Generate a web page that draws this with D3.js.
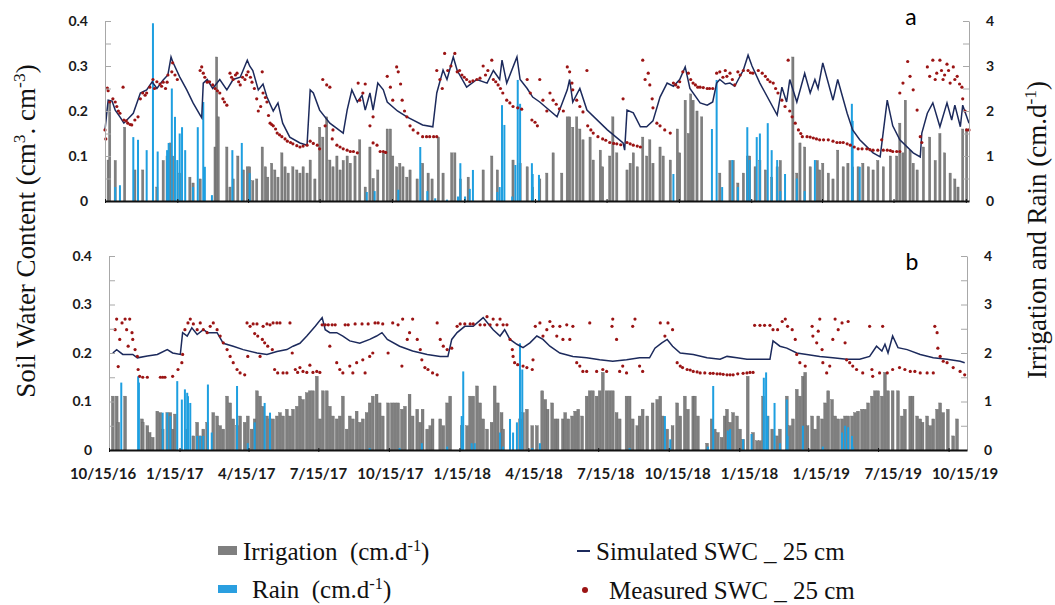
<!DOCTYPE html>
<html>
<head>
<meta charset="utf-8">
<script src="https://d3js.org/d3.v7.min.js"></script>
<style>
  body { margin: 0; background: #fff; }
  .tick text { font-family: Lato, "Open Sans", sans-serif; font-weight: bold; font-size: 14px; fill: #1a1a1a; }
  .serif { font-family: "Liberation Serif", "DejaVu Serif", serif; fill: #111; white-space: pre; }
</style>
</head>
<body>
<div id="my_dataviz"></div>
<script>
// days counted from 15 Oct 2016
// panel a
const simA = [[0,.158],[4,.224],[9,.222],[13,.202],[19,.187],[24,.173],[36,.195],[45,.24],[53,.247],[60,.265],[66,.25],[74,.269],[80,.28],[84,.32],[86,.31],[95,.276],[104,.247],[112,.218],[121,.191],[123,.185],[125,.262],[130,.27],[137,.25],[146,.27],[155,.247],[163,.27],[172,.275],[181,.313],[184,.30],[188,.29],[195,.247],[201,.26],[206,.231],[214,.20],[220,.218],[226,.173],[235,.142],[248,.129],[257,.124],[261,.247],[265,.24],[273,.202],[286,.173],[303,.151],[308,.202],[314,.247],[321,.22],[327,.235],[331,.202],[337,.24],[341,.202],[347,.262],[354,.247],[359,.22],[372,.2],[384,.187],[404,.169],[417,.165],[422,.24],[430,.291],[435,.27],[443,.32],[448,.29],[460,.253],[473,.27],[486,.262],[494,.29],[502,.27],[505,.313],[511,.262],[524,.32],[528,.27],[537,.25],[544,.231],[553,.22],[575,.187],[588,.247],[591,.27],[595,.22],[604,.25],[613,.202],[639,.158],[659,.129],[661,.113],[664,.202],[672,.196],[681,.165],[689,.165],[697,.178],[706,.231],[715,.262],[723,.255],[731,.27],[738,.298],[744,.25],[757,.218],[766,.213],[773,.22],[778,.262],[782,.27],[789,.26],[795,.262],[801,.255],[812,.291],[818,.324],[823,.30],[833,.262],[855,.191],[861,.253],[867,.22],[871,.27],[880,.22],[890,.284],[897,.24],[903,.27],[907,.25],[913,.307],[926,.224],[932,.27],[944,.195],[951,.158],[960,.136],[977,.107],[986,.098],[995,.224],[1002,.167],[1011,.136],[1028,.107],[1037,.098],[1039,.151],[1046,.195],[1053,.218],[1062,.165],[1071,.218],[1077,.18],[1081,.213],[1088,.165],[1091,.213],[1099,.173]];

const measA = [[0,.158],[1,.138],[3,.251],[4,.245],[6,.22],[10,.227],[13,.22],[15,.21],[17,.2],[19,.195],[23,.253],[24,.18],[27,.178],[29,.173],[32,.17],[34,.169],[38,.18],[42,.187],[45,.227],[48,.24],[51,.235],[53,.24],[57,.253],[61,.27],[63,.25],[66,.265],[70,.26],[72,.255],[74,.264],[77,.25],[79,.264],[80,.28],[85,.287],[86,.307],[89,.28],[92,.27],
[121,.29],[123,.298],[125,.284],[127,.275],[130,.264],[133,.265],[137,.258],[140,.25],[143,.245],[146,.24],[150,.227],[152,.22],[155,.213],[159,.284],[161,.275],[163,.27],[166,.28],[168,.284],[170,.265],[172,.258],[175,.275],[178,.27],[180,.28],[182,.287],[185,.275],[187,.264],[190,.25],[193,.227],[195,.2],[198,.21],[200,.287],[201,.24],[204,.23],[206,.22],[208,.19],[210,.173],[212,.17],[214,.167],[217,.16],[219,.151],[222,.147],[225,.143],[229,.138],[232,.133],[236,.13],[239,.127],[244,.123],[248,.12],[252,.122],[257,.124],[261,.133],[265,.128],[270,.124],[273,.116],[277,.27],[280,.167],[282,.258],[286,.253],[289,.138],[290,.158],[295,.124],[299,.12],[303,.116],[308,.113],[312,.11],[316,.11],[321,.107],[322,.262],[324,.224],[328,.24],[331,.26],[337,.167],[341,.187],[341,.129],[346,.124],[350,.11],[354,.11],[357,.108],[359,.277],[363,.253],[366,.224],[371,.298],[373,.287],[376,.26],[378,.224],[381,.2],[384,.187],[388,.167],[392,.158],[398,.151],[404,.143],[409,.143],[413,.143],[418,.143],[422,.143],[422,.29],[426,.27],[429,.25],[432,.328],[436,.29],[440,.3],[445,.328],[448,.287],[451,.29],[454,.28],[457,.275],[460,.27],[464,.265],[468,.267],[473,.27],[477,.273],[481,.3],[484,.28],[487,.29],[492,.313],[494,.27],[497,.265],[500,.258],[503,.25],[506,.24],[511,.224],[515,.218],[519,.21],[525,.207],[530,.204],[537,.27],[541,.24],[543,.18],[547,.175],[550,.167],[553,.27],[557,.224],[562,.2],[566,.24],[570,.224],[574,.215],[578,.205],[583,.2],[588,.298],[591,.287],[594,.262],[595,.247],[600,.224],[604,.21],[608,.198],[613,.29],[614,.167],[618,.158],[621,.151],[627,.143],[633,.138],[637,.135],[642,.13],[647,.128],[651,.127],[656,.125],[659,.227],[664,.13],[668,.127],[672,.124],[677,.122],[681,.12],[684,.313],[687,.27],[691,.284],[693,.258],[696,.227],[697,.207],[702,.173],[706,.167],[712,.158],[719,.151],[723,.262],[726,.258],[729,.253],[731,.265],[735,.287],[742,.284],[745,.27],[748,.262],[751,.258],[754,.253],[757,.253],[761,.252],[766,.25],[769,.25],[773,.25],[778,.284],[782,.287],[786,.275],[789,.29],[791,.277],[795,.284],[798,.27],[801,.258],[805,.287],[808,.28],[812,.29],[818,.29],[821,.285],[824,.284],[831,.29],[836,.284],[840,.277],[843,.27],[846,.265],[850,.262],[853,.25],[856,.24],[861,.224],[865,.21],[869,.313],[871,.2],[874,.187],[878,.173],[882,.158],[885,.15],[887,.143],[893,.143],[897,.142],[901,.14],[905,.138],[909,.136],[914,.136],[920,.136],[926,.133],[931,.13],[935,.13],[939,.13],[944,.127],[948,.124],[953,.12],[958,.116],[963,.116],[969,.116],[973,.114],[977,.113],[983,.113],[988,.136],[990,.113],[995,.113],[999,.112],[1002,.11],[1007,.11],[1011,.11],[1011,.24],[1015,.262],[1021,.31],[1024,.277],[1028,.247],[1033,.202],[1037,.143],[1039,.13],[1046,.298],[1049,.277],[1053,.313],[1056,.27],[1058,.284],[1062,.313],[1064,.29],[1066,.27],[1068,.28],[1071,.304],[1073,.29],[1075,.262],[1079,.298],[1081,.27],[1084,.277],[1087,.26],[1090,.253],[1091,.227],[1094,.2],[1096,.158],[1099,.158]];

const irrA = [[4,.91],[6,2.24],[13,.9],[25,1.64],[38,.69],[48,.69],[66,.31],[74,.9],[79,1.0],[83,1.29],[86,1.0],[95,.62],[108,.53],[112,.4],[121,.49],[140,1.2],[142,3.2],[144,1.87],[155,1.2],[159,.31],[163,.49],[169,1.0],[176,.69],[181,.76],[184,.76],[188,.45],[193,.49],[200,1.2],[204,.76],[207,.53],[212,.84],[216,.69],[220,.53],[225,1.07],[229,.76],[233,.62],[239,.76],[244,.69],[248,.62],[252,.76],[257,.62],[261,.91],[267,.49],[273,1.64],[277,1.42],[282,1.87],[286,.91],[290,.76],[295,1.0],[299,.69],[303,.9],[308,1.0],[312,.84],[318,1.0],[324,1.36],[331,.31],[337,1.2],[341,.5],[347,.69],[354,1.07],[359,1.6],[363,1.6],[366,1.0],[371,.76],[375,.84],[379,.76],[384,.53],[388,.69],[397,.49],[404,.84],[411,.62],[416,.49],[424,1.42],[430,.62],[441,1.07],[445,1.07],[452,.49],[462,.53],[481,.69],[492,1.0],[499,.69],[519,.91],[528,.84],[537,.76],[544,.31],[553,.49],[562,.62],[570,1.07],[581,.62],[588,1.87],[591,1.87],[595,1.64],[600,1.87],[604,1.6],[608,1.36],[617,1.42],[621,.91],[630,1.13],[633,.76],[642,1.0],[646,1.87],[651,1.07],[664,.69],[668,.84],[672,1.07],[677,.76],[684,1.42],[689,1.0],[693,1.36],[697,.84],[706,1.2],[710,1.0],[719,.91],[728,1.6],[731,1.07],[738,2.24],[742,1.5],[745,2.38],[748,2.24],[753,2.0],[759,1.87],[782,.62],[795,.9],[799,.9],[805,.4],[812,.62],[817,1.0],[820,1.0],[827,.76],[833,.9],[840,.69],[848,.53],[855,.76],[859,.9],[875,3.2],[880,.62],[884,1.29],[890,1.2],[897,.76],[906,.9],[909,.69],[913,.84],[920,.62],[926,.49],[932,1.13],[939,.76],[945,.84],[951,.76],[958,.76],[964,.84],[971,.76],[977,.69],[983,.9],[990,.76],[999,1.0],[1007,1.0],[1011,1.73],[1015,1.07],[1018,2.24],[1024,1.13],[1028,.84],[1033,.69],[1041,1.2],[1049,1.42],[1056,.9],[1062,1.5],[1068,1.07],[1075,.62],[1081,.49],[1085,.31],[1091,1.6],[1096,1.6]];

const rainA = [[13,.31],[19,.35],[36,1.42],[42,1.36],[53,1.13],[61,3.95],[67,1.1],[79,1.13],[81,1.29],[85,2.5],[89,1.87],[92,.91],[95,1.5],[98,1.64],[102,1.13],[112,.31],[118,1.64],[125,2.2],[127,.76],[136,.13],[162,1.13],[174,1.29],[184,.62],[333,.2],[343,.22],[373,.25],[401,1.2],[410,.22],[420,.06],[435,.03],[449,.1],[452,.84],[458,.1],[464,.27],[468,.69],[499,.2],[502,.31],[505,2.13],[508,1.69],[518,.1],[522,.8],[525,2.69],[528,2.16],[543,.84],[544,.6],[552,.58],[723,.6],[772,1.6],[778,2.69],[785,.31],[798,.91],[805,.31],[817,1.64],[820,.91],[829,1.42],[833,1.5],[843,1.73],[848,1.13],[855,.91],[859,.22],[865,.6],[880,.5],[890,.22],[903,.91],[950,2.16],[951,1.78],[960,.76]];

// panel b
const simB = [[5,.2],[10,.207],[18,.197],[31,.197],[37,.19],[50,.194],[63,.197],[76,.207],[83,.2],[93,.197],[96,.242],[102,.235],[108,.252],[115,.238],[123,.248],[129,.242],[141,.242],[149,.22],[162,.214],[175,.207],[193,.2],[206,.197],[219,.203],[232,.207],[240,.214],[249,.22],[258,.235],[269,.255],[278,.273],[282,.248],[288,.242],[297,.242],[305,.235],[314,.225],[327,.22],[340,.228],[349,.235],[356,.242],[363,.228],[379,.214],[396,.204],[415,.197],[432,.193],[442,.193],[447,.228],[454,.242],[464,.255],[475,.255],[488,.273],[501,.248],[510,.235],[516,.248],[523,.228],[532,.218],[540,.211],[549,.221],[558,.235],[566,.228],[575,.214],[588,.2],[605,.193],[623,.19],[640,.186],[657,.183],[675,.186],[692,.19],[705,.19],[712,.21],[721,.221],[728,.228],[735,.214],[745,.2],[762,.197],[780,.19],[797,.187],[806,.193],[819,.19],[832,.187],[849,.187],[862,.187],[866,.225],[875,.214],[884,.21],[897,.2],[910,.197],[927,.193],[944,.19],[962,.187],[979,.187],[992,.193],[1001,.214],[1008,.204],[1012,.218],[1016,.2],[1022,.235],[1029,.211],[1041,.207],[1058,.197],[1075,.19],[1093,.187],[1110,.183],[1116,.18]];

const measB = [[8,.248],[10,.27],[12,.172],[14,.228],[17,.262],[21,.27],[23,.248],[25,.214],[27,.27],[30,.242],[31,.228],[34,.207],[37,.193],[38,.166],[40,.152],[44,.15],[50,.15],[67,.15],[70,.15],[73,.15],[83,.152],[90,.166],[95,.18],[96,.197],[99,.248],[103,.262],[106,.27],[110,.26],[115,.248],[119,.262],[123,.248],[128,.242],[132,.255],[136,.262],[141,.248],[145,.235],[149,.221],[154,.207],[158,.193],[162,.18],[167,.166],[171,.159],[177,.155],[180,.262],[181,.193],[184,.255],[188,.26],[190,.24],[193,.26],[194,.235],[197,.193],[200,.228],[201,.255],[203,.221],[206,.26],[207,.214],[210,.258],[213,.207],[214,.262],[216,.166],[219,.262],[220,.159],[223,.262],[227,.159],[232,.159],[236,.262],[239,.2],[243,.166],[246,.16],[249,.17],[253,.162],[258,.16],[262,.175],[266,.16],[271,.162],[275,.16],[278,.258],[282,.258],[286,.258],[288,.214],[291,.258],[295,.258],[297,.18],[301,.166],[305,.159],[308,.258],[312,.258],[314,.173],[318,.159],[321,.26],[323,.18],[330,.26],[331,.186],[334,.159],[338,.26],[340,.193],[344,.2],[347,.262],[351,.262],[357,.26],[364,.2],[370,.262],[377,.258],[382,.173],[383,.27],[389,.228],[392,.242],[396,.27],[402,.228],[406,.207],[408,.186],[412,.17],[416,.166],[422,.159],[428,.155],[428,.262],[432,.228],[436,.214],[441,.207],[447,.21],[454,.255],[458,.26],[464,.26],[471,.26],[475,.26],[484,.258],[490,.258],[493,.275],[497,.258],[501,.27],[506,.258],[510,.27],[514,.258],[519,.258],[523,.228],[526,.207],[527,.193],[529,.18],[533,.176],[540,.173],[545,.17],[552,.166],[553,.186],[556,.255],[562,.262],[566,.235],[571,.248],[575,.265],[579,.255],[584,.235],[588,.255],[592,.228],[597,.258],[601,.228],[605,.255],[610,.18],[614,.173],[618,.162],[623,.162],[627,.262],[636,.162],[644,.166],[649,.162],[656,.255],[657,.27],[662,.228],[666,.162],[670,.173],[675,.159],[683,.255],[686,.27],[692,.173],[696,.162],[719,.262],[725,.235],[729,.262],[735,.248],[741,.18],[745,.173],[748,.17],[754,.166],[758,.165],[762,.162],[767,.161],[771,.159],[777,.159],[784,.158],[788,.158],[793,.157],[797,.157],[801,.156],[806,.155],[810,.155],[814,.155],[820,.157],[827,.158],[832,.159],[836,.16],[840,.16],[842,.257],[849,.257],[855,.257],[862,.257],[866,.248],[872,.248],[878,.265],[882,.27],[885,.255],[891,.248],[895,.228],[897,.197],[901,.18],[908,.173],[917,.255],[918,.235],[923,.221],[925,.245],[927,.27],[930,.207],[931,.18],[936,.159],[940,.173],[944,.228],[947,.27],[951,.248],[956,.262],[960,.221],[962,.186],[964,.265],[966,.18],[970,.173],[975,.166],[983,.159],[992,.255],[995,.166],[996,.152],[1005,.159],[1009,.255],[1015,.159],[1022,.166],[1031,.17],[1038,.166],[1045,.162],[1051,.162],[1058,.159],[1067,.159],[1075,.159],[1077,.255],[1080,.242],[1081,.21],[1084,.193],[1088,.183],[1093,.18],[1101,.17],[1110,.162],[1116,.155]];

const irrB = [[5,1.11],[10,1.11],[12,.57],[21,1.11],[43,.64],[44,.57],[50,.5],[53,.36],[57,.26],[63,.8],[67,.77],[70,.43],[76,.77],[80,.77],[83,.43],[86,.74],[102,.43],[110,.29],[115,.57],[119,.29],[123,.43],[128,.57],[136,.77],[141,.7],[145,.5],[149,.43],[154,1.11],[158,.97],[162,.64],[167,.5],[171,.7],[177,.57],[181,.7],[186,.43],[190,.64],[193,1.22],[197,1.11],[201,.9],[206,.7],[210,.64],[214,.64],[219,.7],[223,.77],[227,.7],[232,.84],[236,.7],[240,.84],[245,.9],[249,1.11],[253,1.04],[258,1.18],[262,1.22],[266,1.22],[271,1.52],[275,.64],[279,1.22],[284,1.22],[288,.9],[292,.7],[297,.64],[301,.7],[305,1.11],[310,.43],[314,.7],[318,.64],[323,.8],[327,.57],[331,.64],[336,.77],[340,.97],[344,1.11],[349,1.15],[353,.97],[357,.7],[364,.97],[369,.97],[373,.97],[377,.97],[382,.84],[386,.9],[392,1.15],[396,.7],[402,.84],[406,.57],[409,.84],[415,.43],[419,.5],[422,.64],[432,.64],[436,.5],[441,.97],[445,1.11],[460,.5],[467,.5],[471,1.11],[475,1.11],[480,1.32],[484,.97],[488,.64],[493,.43],[499,.57],[503,1.32],[507,.97],[512,.77],[514,.43],[536,.64],[540,.77],[545,.84],[552,.5],[558,.5],[565,1.22],[569,1.04],[572,.84],[578,.97],[582,.64],[585,.64],[592,.64],[595,.77],[599,.64],[604,.7],[608,.8],[612,.84],[617,.7],[623,1.11],[627,1.22],[631,1.22],[636,1.11],[640,1.22],[644,1.6],[649,1.22],[653,1.22],[657,1.22],[662,.77],[666,.64],[675,1.11],[679,1.11],[683,.64],[689,.5],[692,.7],[696,.84],[702,.7],[709,.97],[715,1.04],[719,1.11],[722,.7],[728,.43],[735,.5],[741,.97],[745,.7],[751,1.11],[755,.84],[762,1.11],[764,1.11],[768,.7],[780,.14],[786,.64],[790,.43],[794,.36],[799,.26],[803,.7],[806,.84],[810,.57],[814,.77],[819,.7],[823,.43],[827,.22],[833,1.52],[840,.36],[845,.19],[849,.19],[853,1.11],[859,.7],[865,.43],[871,.29],[875,.43],[884,1.11],[888,.5],[892,.64],[897,1.25],[901,1.11],[905,1.52],[908,1.6],[911,.5],[917,.7],[921,.43],[925,.7],[930,.64],[934,.97],[938,1.22],[943,1.04],[947,.7],[951,.64],[956,.64],[960,.7],[964,.7],[969,.7],[973,.77],[977,.8],[982,.84],[986,.84],[990,.97],[995,1.11],[999,1.22],[1003,1.22],[1008,1.11],[1012,1.6],[1016,1.22],[1022,1.22],[1029,1.22],[1034,.7],[1038,.84],[1045,1.11],[1048,1.11],[1054,.7],[1058,.64],[1061,.57],[1067,.7],[1071,.5],[1075,.64],[1080,.84],[1084,.97],[1088,.77],[1094,.84],[1101,.29],[1106,.64]];

const rainB = [[16,1.39],[38,1.52],[39,1.39],[70,.77],[76,.77],[80,.7],[89,1.42],[95,1.04],[99,1.25],[102,1.18],[103,1.11],[106,.97],[115,.29],[119,.29],[123,.29],[129,1.35],[134,.36],[167,1.32],[181,.14],[190,.57],[203,.97],[210,.77],[340,.04],[379,.04],[408,.14],[441,.07],[460,.7],[462,1.62],[473,.14],[477,.14],[510,.36],[514,.07],[523,.64],[527,.36],[532,.57],[536,2.2],[539,1.66],[552,.04],[562,.14],[679,.04],[725,.7],[732,.22],[781,.07],[788,1.32],[807,.4],[810,.43],[827,.22],[838,.33],[854,1.49],[857,1.6],[859,.7],[868,.97],[875,.14],[884,1.04],[885,.29],[905,.5],[931,.07],[956,.36],[960,.5],[964,.47],[969,.29],[970,.07]];

// axis ticks and labels (the labels are as printed in the figure)
const swcTicks = [0, 0.05, 0.1, 0.15, 0.2, 0.25, 0.3, 0.35, 0.4];
const rateTicks = [0, 0.5, 1, 1.5, 2, 2.5, 3, 3.5, 4];
const tickLabels = ["10/15/16", "1/15/17", "4/15/17", "7/15/17", "10/15/17", "1/15/18", "4/15/18",
                    "7/15/18", "10/15/18", "1/15/18", "1/15/19", "7/15/19", "10/15/19"];

const grayBar = "#7f7f7f", blueBar = "#1e9fe0", navy = "#1c2a5c", darkRed = "#9b1414";

const svg = d3.select("#my_dataviz")
  .append("svg")
    .attr("width", 1055)
    .attr("height", 605);

const start = new Date(Date.UTC(2016, 9, 15));
const day = d => d3.utcDay.offset(start, d);
const tickDates = d3.range(tickLabels.length).map(i => d3.utcMonth.offset(start, 3 * i));

const panels = [
  {sim: simA, meas: measA, irr: irrA, rain: rainA, x0: 105, x1: 969, lastDay: 1099, top: 21, bottom: 201, barW: 2.2, tag: "a", tagX: 911, tagY: 25},
  {sim: simB, meas: measB, irr: irrB, rain: rainB, x0: 109, x1: 967, lastDay: 1119, top: 256, bottom: 450, barW: 2.8, tag: "b", tagX: 912, tagY: 270}
];

panels.forEach(function(p) {
  const x = d3.scaleUtc().domain([start, day(p.lastDay)]).range([p.x0, p.x1]);
  const y = d3.scaleLinear().domain([0, 0.4]).range([p.bottom, p.top]);
  const y2 = d3.scaleLinear().domain([0, 4]).range([p.bottom, p.top]);
  const g = svg.append("g");

  // Bars
  g.selectAll("irr")
    .data(p.irr)
    .enter()
    .append("rect")
      .attr("x", d => x(day(d[0])) - p.barW / 2)
      .attr("y", d => y2(d[1]))
      .attr("width", p.barW)
      .attr("height", d => y2(0) - y2(d[1]))
      .attr("fill", grayBar)
      .attr("stroke", "#666")
      .attr("stroke-width", 0.4);

  g.selectAll("rain")
    .data(p.rain)
    .enter()
    .append("rect")
      .attr("x", d => x(day(d[0])) - 1)
      .attr("y", d => y2(d[1]))
      .attr("width", 2)
      .attr("height", d => y2(0) - y2(d[1]))
      .attr("fill", blueBar);

  // Simulated line
  g.append("path")
    .datum(p.sim)
    .attr("fill", "none")
    .attr("stroke", navy)
    .attr("stroke-width", 1.5)
    .attr("d", d3.line().x(d => x(day(d[0]))).y(d => y(d[1])));

  // Measured points
  g.selectAll("meas")
    .data(p.meas)
    .enter()
    .append("circle")
      .attr("cx", d => x(day(d[0])))
      .attr("cy", d => y(d[1]))
      .attr("r", 1.6)
      .attr("fill", darkRed);

  // Axes
  const left = g.append("g")
    .attr("transform", `translate(${p.x0},0)`)
    .call(d3.axisLeft(y).tickValues(swcTicks).tickSize(-6).tickSizeOuter(0).tickPadding(17)
      .tickFormat(d => Math.round(d * 100) % 10 === 0 ? (d === 0 ? "0" : d3.format(".1f")(d)) : ""));
  const right = g.append("g")
    .attr("transform", `translate(${p.x1},0)`)
    .call(d3.axisRight(y2).tickValues(rateTicks).tickSize(-6).tickSizeOuter(0).tickPadding(17)
      .tickFormat(d => Number.isInteger(d) ? d : ""));
  [left, right].forEach(a => {
    a.select(".domain").attr("stroke", "#a8a8a8");
    a.selectAll(".tick line").attr("stroke", "#a8a8a8");
  });
  const bottom = g.append("g")
    .attr("transform", `translate(0,${p.bottom})`)
    .call(d3.axisBottom(x).tickValues(tickDates).tickSize(-4).tickSizeOuter(0).tickFormat(""));
  bottom.select(".domain").attr("stroke", "#111").attr("stroke-width", 2);
  bottom.selectAll(".tick line").attr("stroke", "#111").attr("transform", "translate(0,2)");

  g.append("text")
    .attr("x", p.tagX)
    .attr("y", p.tagY)
    .attr("text-anchor", "middle")
    .style("font-family", "Lato, sans-serif")
    .style("font-size", "23px")
    .text(p.tag);
});

// Date labels under panel b
const labelX = d3.scalePoint().domain(d3.range(tickLabels.length)).range([103, 965]);
svg.selectAll("datelabel")
  .data(tickLabels)
  .enter()
  .append("text")
    .attr("x", (d, i) => labelX(i))
    .attr("y", 479)
    .attr("text-anchor", "middle")
    .style("font-family", "Lato, sans-serif")
    .style("font-weight", "bold")
    .style("font-size", "15px")
    .style("fill", "#1a1a1a")
    .text(d => d);

// text with superscripts
function richText(sel, parts) {
  parts.forEach(pt => {
    const t = sel.append("tspan").text(pt[0]);
    if (pt[1]) t.attr("baseline-shift", "super").style("font-size", "65%");
  });
  return sel;
}

richText(svg.append("text").attr("class", "serif")
    .attr("transform", "translate(35,231) rotate(-90)")
    .attr("text-anchor", "middle").style("font-size", "27px"),
  [["Soil Water Content (cm"], ["3", true], [". cm"], ["-3", true], [")"]]);

richText(svg.append("text").attr("class", "serif")
    .attr("transform", "translate(1046,230) rotate(-90)")
    .attr("text-anchor", "middle").style("font-size", "27px"),
  [["Irrigation and Rain (cm.d"], ["-1", true], [")"]]);

// Legend
const legend = svg.append("g");
legend.append("rect").attr("x", 218).attr("y", 546).attr("width", 19).attr("height", 9).attr("fill", grayBar);
legend.append("rect").attr("x", 218).attr("y", 585).attr("width", 19).attr("height", 8).attr("fill", "#2a9fe0");
legend.append("line").attr("x1", 577).attr("x2", 590).attr("y1", 551).attr("y2", 551)
  .attr("stroke", navy).attr("stroke-width", 2);
legend.append("circle").attr("cx", 585).attr("cy", 590).attr("r", 3).attr("fill", darkRed);

richText(legend.append("text").attr("class", "serif").attr("x", 243).attr("y", 560).style("font-size", "25px"),
  [["Irrigation  (cm.d"], ["-1", true], [")"]]);
richText(legend.append("text").attr("class", "serif").attr("x", 252).attr("y", 598).style("font-size", "25px"),
  [["Rain  (cm.d"], ["-1", true], [")"]]);
legend.append("text").attr("class", "serif").attr("x", 596).attr("y", 560).style("font-size", "25px")
  .text("Simulated SWC _ 25 cm");
legend.append("text").attr("class", "serif").attr("x", 609).attr("y", 599).style("font-size", "25px")
  .text("Measured SWC _ 25 cm");
</script>
</body>
</html>
